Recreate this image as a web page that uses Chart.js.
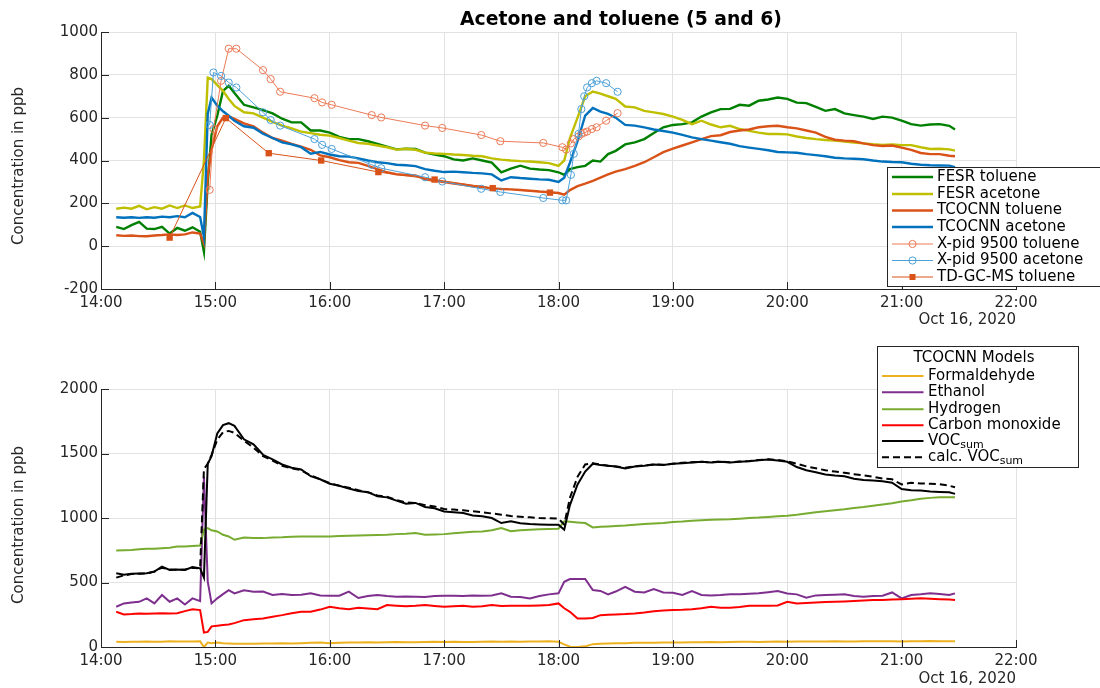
<!DOCTYPE html>
<html>
<head>
<meta charset="utf-8">
<script src="https://cdn.jsdelivr.net/npm/chart.js@4.4.1/dist/chart.umd.min.js"></script>
<style>
  body { margin: 0; background: #fff; }
  #wrap { position: relative; width: 1100px; height: 688px; }
  canvas { position: absolute; left: 0; }
</style>
</head>
<body>
<div id="wrap">
  <canvas id="topChart" width="1100" height="344" style="top:0"></canvas>
  <canvas id="bottomChart" width="1100" height="344" style="top:344px"></canvas>
</div>
<script>
// minutes after 14:00, shared by the continuous sensor series
const timeGrid = [
  8, 12, 16, 20, 24, 28, 32, 36, 40, 44,
  48, 52, 54, 56, 58, 61, 64, 67, 70, 75,
  80, 85, 90, 95, 100, 105, 110, 115, 120, 125,
  130, 135, 140, 145, 150, 155, 160, 165, 170, 175,
  180, 185, 190, 195, 200, 205, 210, 215, 220, 225,
  230, 235, 240, 243, 246, 250, 254, 258, 262, 266,
  270, 275, 280, 285, 290, 295, 300, 305, 310, 315,
  320, 325, 330, 335, 340, 345, 350, 355, 360, 365,
  370, 375, 380, 385, 390, 395, 400, 405, 410, 415,
  420, 425, 430, 435, 440, 445, 448
];

// top panel
const fesrToluene = [
  90, 80, 98, 113, 82, 80, 90, 59, 85, 72,
  88, 67, -26, 300, 520, 609, 725, 749, 715, 660,
  648, 635, 620, 595, 578, 578, 540, 540, 530, 510,
  500, 500, 490, 477, 465, 452, 455, 454, 437, 428,
  420, 405, 400, 410, 400, 390, 345, 362, 376, 362,
  358, 355, 345, 333, 360, 369, 375, 400, 395, 430,
  445, 475, 485, 500, 528, 555, 566, 570, 578, 605,
  625, 640, 641, 660, 656, 679, 685, 694, 688, 670,
  668, 650, 632, 640, 620, 612, 605, 594, 605, 600,
  586, 570, 563, 568, 570, 562, 545
];
const fesrAcetone = [
  175, 180, 175, 188, 172, 182, 175, 190, 178, 190,
  178, 185, 400, 787, 780, 752, 725, 687, 655, 625,
  620, 600, 580, 563, 550, 535, 528, 520, 516, 505,
  493, 482, 478, 470, 462, 451, 455, 450, 437, 433,
  431, 428, 426, 422, 420, 410, 404, 400, 397, 395,
  392, 388, 375, 400, 505, 600, 700, 722, 712, 700,
  688, 652, 648, 632, 625, 617, 605, 590, 570, 586,
  568, 555, 562, 547, 538, 530, 524, 524, 522, 512,
  505, 500, 496, 493, 488, 484, 480, 476, 473, 475,
  472, 472, 462, 454, 455, 452, 446
];
const tcocnnToluene = [
  51, 48, 50, 47, 46, 50, 52, 55, 52, 55,
  64, 59, 12, 330, 450, 560, 600, 606, 594, 573,
  560, 530, 505, 493, 478, 465, 450, 424, 415, 402,
  392, 389, 375, 360, 345, 336, 332, 330, 312, 305,
  299, 292, 287, 280, 276, 270, 267, 265, 262, 259,
  255, 252, 248, 240, 262, 280, 292, 305, 320, 335,
  348, 360, 375, 392, 415, 439, 455, 470, 485, 500,
  514, 518, 533, 540, 545, 555, 560, 562, 555, 550,
  540, 530, 510, 497, 493, 490, 480, 472, 468, 470,
  460, 450, 435, 430, 430, 422, 420
];
const tcocnnAcetone = [
  135, 133, 135, 132, 135, 133, 138, 135, 140, 135,
  155, 136, 43, 617, 694, 656, 630, 609, 585, 560,
  553, 525, 505, 485, 475, 462, 432, 440, 428, 420,
  418, 410, 400, 392, 388, 380, 378, 374, 360, 352,
  346, 348, 345, 342, 340, 335, 307, 322, 318, 315,
  312, 310, 300, 320, 390, 490, 610, 645, 628, 618,
  600, 566, 563, 555, 545, 538, 530, 520, 508, 500,
  493, 485, 478, 467, 460, 454, 448, 440, 438, 436,
  430, 425, 420, 413, 410, 408, 406, 400, 395, 393,
  392, 385, 380, 378, 377, 376, 369
];

const xpidTime = [57, 59, 63, 67, 71, 85, 89, 94, 112, 116, 121, 142, 147, 170, 179,
  199.5, 209.5, 232, 242, 244, 246.5, 248, 250.5, 252, 253.5, 255, 257.5, 260, 265, 271];
const xpidToluene = [263, 547, 772, 922, 922, 822, 780, 721, 691, 671, 660, 612, 601, 563, 552,
  519, 490, 482, 462, 451, 480, 500, 512, 524, 530, 535, 547, 555, 586, 621];
const xpidAcetone = [566, 811, 795, 764, 741, 625, 589, 563, 500, 473, 454, 380, 364, 322, 302,
  268, 253, 225, 214, 214, 333, 431, 524, 640, 700, 741, 761, 772, 761, 721];

const tdTime = [36, 65.5, 88, 115.5, 145.5, 175, 205.5, 235.5];
const tdToluene = [40, 598, 434, 400, 346, 311, 271, 250];

// bottom panel
const formaldehyde = [
  40, 39, 40, 40, 42, 41, 40, 44, 42, 43,
  42, 44, 0, 34, 30, 34, 30, 28, 26, 25,
  26, 28, 28, 30, 28, 30, 32, 34, 30, 33,
  35, 34, 36, 35, 36, 38, 37, 36, 38, 40,
  38, 40, 38, 39, 40, 42, 40, 42, 41, 43,
  42, 44, 40, 20, 2, 0, 5, 22, 26, 28,
  30, 30, 32, 33, 32, 34, 35, 34, 36, 37,
  38, 36, 38, 40, 40, 39, 41, 42, 40, 42,
  43, 42, 42, 44, 43, 42, 44, 45, 44, 44,
  43, 45, 44, 46, 45, 44, 44
];
const ethanol = [
  312, 338, 345, 350, 377, 338, 403, 351, 377, 330,
  377, 356, 1320, 506, 338, 377, 410, 441, 416, 440,
  429, 430, 403, 410, 403, 405, 416, 400, 397, 398,
  429, 380, 395, 403, 395, 390, 392, 390, 388, 395,
  397, 398, 395, 400, 397, 400, 416, 390, 388, 377,
  395, 408, 416, 506, 527, 527, 527, 441, 435, 408,
  430, 467, 429, 423, 449, 423, 420, 403, 434, 403,
  400, 403, 408, 408, 412, 416, 425, 434, 415, 408,
  382, 400, 403, 405, 408, 395, 390, 395, 397, 423,
  377, 403, 408, 416, 410, 403, 416
];
const hydrogen = [
  748, 750, 752, 758, 761, 762, 766, 770, 779, 780,
  783, 787, 909, 922, 905, 896, 870, 857, 831, 849,
  845, 844, 848, 850, 855, 857, 856, 857, 857, 860,
  862, 865, 866, 868, 870, 875, 878, 883, 870, 872,
  875, 882, 888, 893, 896, 905, 922, 898, 905, 909,
  912, 915, 917, 974, 970, 965, 961, 927, 932, 935,
  938, 942, 948, 953, 957, 962, 969, 972, 978, 983,
  987, 988, 990, 995, 1000, 1003, 1008, 1014, 1018, 1025,
  1035, 1045, 1052, 1060, 1068, 1078, 1085, 1095, 1105, 1115,
  1128, 1138, 1150, 1156, 1160, 1160, 1161
];
const carbonMonoxide = [
  273, 252, 255, 260, 258, 260, 262, 260, 262, 278,
  293, 286, 112, 117, 160, 165, 170, 174, 185, 208,
  215, 221, 235, 247, 262, 273, 273, 290, 312, 300,
  293, 304, 298, 293, 325, 320, 315, 319, 325, 318,
  312, 315, 319, 312, 315, 325, 318, 319, 320, 319,
  322, 325, 338, 300, 273, 221, 221, 225, 247, 250,
  252, 255, 260, 268, 278, 282, 286, 288, 293, 300,
  312, 305, 304, 310, 319, 319, 319, 322, 351, 338,
  342, 345, 348, 351, 353, 356, 360, 364, 365, 368,
  371, 374, 377, 374, 371, 368, 364
];
const vocSum = [
  571, 560, 568, 570, 571, 584, 623, 597, 600, 597,
  620, 610, 538, 1420, 1480, 1655, 1720, 1735, 1714, 1610,
  1571, 1490, 1454, 1415, 1390, 1376, 1324, 1300, 1265, 1250,
  1228, 1210, 1200, 1169, 1160, 1135, 1110, 1117, 1085, 1075,
  1050, 1045, 1039, 1020, 1013, 1000, 961, 974, 960, 953,
  950, 948, 948, 909, 1100, 1260, 1360, 1421, 1410, 1405,
  1400, 1384, 1400, 1405, 1415, 1410, 1420, 1425, 1430, 1436,
  1430, 1436, 1430, 1436, 1440, 1448, 1454, 1446, 1436, 1395,
  1370, 1355, 1338, 1330, 1324, 1305, 1295, 1290, 1285, 1273,
  1225, 1215, 1213, 1205, 1202, 1200, 1187
];
const calcVocSum = [
  538, 555, 565, 568, 570, 585, 615, 600, 598, 600,
  615, 610, 1380, 1420, 1490, 1607, 1665, 1675, 1660, 1600,
  1545, 1480, 1445, 1405, 1385, 1370, 1330, 1300, 1270, 1250,
  1235, 1215, 1200, 1175, 1165, 1140, 1120, 1117, 1100, 1090,
  1070, 1065, 1060, 1052, 1045, 1035, 1026, 1015, 1010, 1005,
  1000, 998, 995, 950, 1156, 1320, 1415, 1425, 1415, 1405,
  1400, 1390, 1400, 1408, 1415, 1412, 1420, 1428, 1432, 1436,
  1432, 1438, 1432, 1438, 1442, 1450, 1455, 1450, 1440, 1420,
  1400, 1385, 1370, 1360, 1350, 1340, 1330, 1320, 1306, 1300,
  1260, 1273, 1268, 1265, 1262, 1250, 1239
];

const FONT = '"DejaVu Sans", Verdana, sans-serif';
Chart.defaults.font.family = FONT;
Chart.defaults.font.size = 15;
Chart.defaults.color = '#262626';

const series = (times, values) => times.map((t, i) => ({ x: t, y: values[i] }));
const hourLabel = v => (14 + v / 60) + ':00';
const subLabels = { 'VOCsum': ['VOC', 'sum'], 'calc. VOCsum': ['calc. VOC', 'sum'] };

function drawLegend(ctx, chart, lg) {
  ctx.fillStyle = '#fff';
  ctx.fillRect(lg.x, lg.y, lg.w, lg.h);
  ctx.strokeStyle = '#262626';
  ctx.lineWidth = 1;
  ctx.setLineDash([]);
  ctx.strokeRect(lg.x + 0.5, lg.y + 0.5, lg.w, lg.h);
  ctx.textBaseline = 'middle';
  ctx.fillStyle = '#000';
  if (lg.title) {
    ctx.font = '15px ' + FONT;
    ctx.textAlign = 'center';
    ctx.fillText(lg.title, lg.titleX, lg.titleY);
  }
  chart.data.datasets.forEach((ds, i) => {
    const y = lg.rowY[i];
    ctx.strokeStyle = ds.borderColor;
    ctx.lineWidth = ds.borderWidth;
    ctx.setLineDash(ds.borderDash || []);
    ctx.beginPath();
    ctx.moveTo(lg.lineX[0], y);
    ctx.lineTo(lg.lineX[1], y);
    ctx.stroke();
    ctx.setLineDash([]);
    if (ds.pointRadius > 0) {
      const mx = (lg.lineX[0] + lg.lineX[1]) / 2;
      ctx.lineWidth = 1;
      if (ds.pointStyle === 'rect') {
        ctx.fillStyle = ds.pointBackgroundColor;
        ctx.fillRect(mx - 3, y - 3, 6, 6);
      } else {
        ctx.beginPath();
        ctx.arc(mx, y, ds.pointRadius, 0, Math.PI * 2);
        ctx.stroke();
      }
    }
    ctx.fillStyle = '#000';
    ctx.textAlign = 'left';
    ctx.font = '15px ' + FONT;
    const parts = subLabels[ds.label];
    if (parts) {
      ctx.fillText(parts[0], lg.textX, y);
      const w = ctx.measureText(parts[0]).width;
      ctx.font = '11px ' + FONT;
      ctx.fillText(parts[1], lg.textX + w, y + 4);
    } else {
      ctx.fillText(ds.label, lg.textX, y);
    }
  });
}

function decor(o) {
  return {
    id: 'decor',
    afterDraw(chart) {
      const ctx = chart.ctx, a = chart.chartArea;
      const xs = chart.scales.x, ys = chart.scales.y;
      ctx.save();
      // MATLAB style inward ticks
      ctx.strokeStyle = '#262626';
      ctx.lineWidth = 1;
      ctx.beginPath();
      xs.ticks.forEach(t => {
        const p = Math.round(xs.getPixelForValue(t.value)) + 0.5;
        ctx.moveTo(p, a.bottom);
        ctx.lineTo(p, a.bottom - 7);
      });
      ys.ticks.forEach(t => {
        const p = Math.round(ys.getPixelForValue(t.value)) + 0.5;
        ctx.moveTo(a.left, p);
        ctx.lineTo(a.left + 8, p);
      });
      ctx.stroke();

      ctx.fillStyle = '#262626';
      ctx.font = '15px ' + FONT;
      ctx.textAlign = 'right';
      ctx.textBaseline = 'middle';
      ctx.fillText('Oct 16, 2020', a.right, o.dateY);

      ctx.save();
      ctx.translate(19, o.yTitleY);
      ctx.rotate(-Math.PI / 2);
      ctx.textAlign = 'center';
      ctx.fillText('Concentration in ppb', 0, 0);
      ctx.restore();

      if (o.title) {
        ctx.fillStyle = '#000';
        ctx.font = 'bold 18.8px ' + FONT;
        ctx.textAlign = 'center';
        ctx.fillText(o.title, 621, 20);
      }
      drawLegend(ctx, chart, o.legend);
      ctx.restore();
    }
  };
}

function axes(yMin, yMax, yStep, xHeight) {
  return {
    x: {
      type: 'linear', min: 0, max: 480,
      ticks: { stepSize: 60, autoSkip: false, maxRotation: 0, padding: 5, callback: hourLabel },
      grid: { color: '#e2e2e2', drawTicks: false },
      border: { color: '#262626' },
      afterFit: s => { s.height = xHeight; }
    },
    y: {
      min: yMin, max: yMax,
      ticks: { stepSize: yStep, padding: 3, callback: v => String(v) },
      grid: { color: '#e2e2e2', drawTicks: false },
      border: { color: '#262626' },
      afterFit: s => { s.width = 101; }
    }
  };
}

function baseOptions(padTop, yMin, yMax, yStep, xHeight) {
  return {
    responsive: false,
    animation: false,
    events: [],
    layout: { padding: { left: 0, right: 84, top: padTop, bottom: 0 } },
    plugins: { legend: { display: false }, tooltip: { enabled: false } },
    scales: axes(yMin, yMax, yStep, xHeight)
  };
}

const topSets = [
  { label: 'FESR toluene', data: series(timeGrid, fesrToluene), borderColor: '#008000', borderWidth: 2.4, pointRadius: 0 },
  { label: 'FESR acetone', data: series(timeGrid, fesrAcetone), borderColor: '#bfbf00', borderWidth: 2.4, pointRadius: 0 },
  { label: 'TCOCNN toluene', data: series(timeGrid, tcocnnToluene), borderColor: '#d95319', borderWidth: 2.4, pointRadius: 0 },
  { label: 'TCOCNN acetone', data: series(timeGrid, tcocnnAcetone), borderColor: '#0072bd', borderWidth: 2.4, pointRadius: 0 },
  { label: 'X-pid 9500 toluene', data: series(xpidTime, xpidToluene), borderColor: '#ec7b57', borderWidth: 1,
    pointRadius: 3.6, pointStyle: 'circle', pointBorderWidth: 1, pointBackgroundColor: 'rgba(0,0,0,0)' },
  { label: 'X-pid 9500 acetone', data: series(xpidTime, xpidAcetone), borderColor: '#4da0d8', borderWidth: 1,
    pointRadius: 3.6, pointStyle: 'circle', pointBorderWidth: 1, pointBackgroundColor: 'rgba(0,0,0,0)' },
  { label: 'TD-GC-MS toluene', data: series(tdTime, tdToluene), borderColor: '#d95319', borderWidth: 1,
    pointRadius: 4.5, pointStyle: 'rect', pointBorderWidth: 0, pointBackgroundColor: '#d95319' }
];
topSets.forEach((d, i) => { d.order = topSets.length - i; });

new Chart(document.getElementById('topChart'), {
  type: 'line',
  data: { datasets: topSets },
  options: baseOptions(32, -200, 1000, 200, 55),
  plugins: [decor({
    title: 'Acetone and toluene (5 and 6)',
    dateY: 320, yTitleY: 166,
    legend: { x: 887, y: 167, w: 214, h: 119, lineX: [892, 933], textX: 937,
      rowY: [177, 194, 210.5, 227, 244, 260.5, 277] }
  })]
});

const bottomSets = [
  { label: 'Formaldehyde', data: series(timeGrid, formaldehyde), borderColor: '#edb120', borderWidth: 2, pointRadius: 0 },
  { label: 'Ethanol', data: series(timeGrid, ethanol), borderColor: '#7e2f8e', borderWidth: 2, pointRadius: 0 },
  { label: 'Hydrogen', data: series(timeGrid, hydrogen), borderColor: '#77ac30', borderWidth: 2, pointRadius: 0 },
  { label: 'Carbon monoxide', data: series(timeGrid, carbonMonoxide), borderColor: '#ff0000', borderWidth: 2, pointRadius: 0 },
  { label: 'VOCsum', data: series(timeGrid, vocSum), borderColor: '#000000', borderWidth: 2, pointRadius: 0 },
  { label: 'calc. VOCsum', data: series(timeGrid, calcVocSum), borderColor: '#000000', borderWidth: 2, borderDash: [7, 4], pointRadius: 0 }
];
bottomSets.forEach((d, i) => { d.order = bottomSets.length - i; });

new Chart(document.getElementById('bottomChart'), {
  type: 'line',
  data: { datasets: bottomSets },
  options: baseOptions(45, 0, 2000, 500, 41),
  plugins: [decor({
    dateY: 335, yTitleY: 181,
    legend: { x: 877, y: 2, w: 201, h: 121, title: 'TCOCNN Models', titleX: 974, titleY: 14,
      lineX: [882, 923.5], textX: 928, rowY: [32, 48.3, 65.3, 81.3, 97, 113.3] }
  })]
});
</script>
</body>
</html>
